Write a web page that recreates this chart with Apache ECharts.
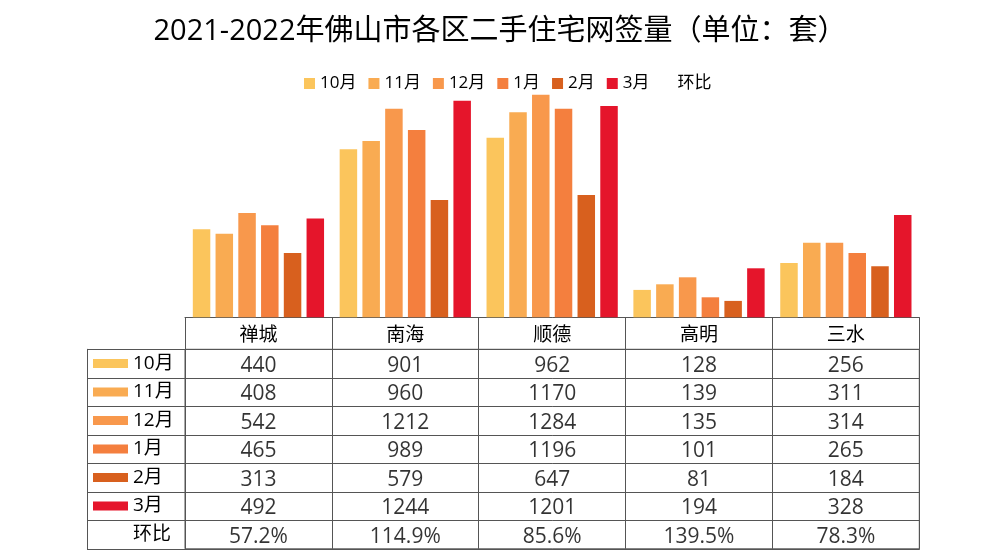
<!DOCTYPE html>
<html><head><meta charset="utf-8">
<script src="https://cdn.jsdelivr.net/npm/echarts@6/dist/echarts.min.js"></script>
<style>html,body{margin:0;padding:0;background:#fff}#c{width:1000px;height:559px}</style>
</head><body><div id="c"></div>
<script>
// categories
const districts = ['禅城', '南海', '顺德', '高明', '三水'];
const months = ['10月', '11月', '12月', '1月', '2月', '3月'];
const rateName = '环比';
const monthColors = ['#FBC55C', '#F9AB52', '#F8984C', '#F47F3E', '#D8601E', '#E5152B'];

// bar heights as drawn in the picture (estimated from the bars)
const barOct = [440, 840, 898, 137, 272];
const barNov = [418, 882, 1025, 165, 373];
const barDec = [522, 1043, 1113, 200, 373];
const barJan = [460, 937, 1043, 100, 322];
const barFeb = [322, 587, 612, 82, 255];
const barMar = [494, 1083, 1057, 245, 512];

// data table values
const tblOct = [440, 901, 962, 128, 256];
const tblNov = [408, 960, 1170, 139, 311];
const tblDec = [542, 1212, 1284, 135, 314];
const tblJan = [465, 989, 1196, 101, 265];
const tblFeb = [313, 579, 647, 81, 184];
const tblMar = [492, 1244, 1201, 194, 328];
const tblRate = ['57.2%', '114.9%', '85.6%', '139.5%', '78.3%'];

const barSets = [barOct, barNov, barDec, barJan, barFeb, barMar];
const tableRows = [tblOct, tblNov, tblDec, tblJan, tblFeb, tblMar, tblRate];
const rowNames = months.concat([rateName]);

const FONT = '"Open Sans","Noto Sans CJK SC",sans-serif';
const LINE = '#555';
const INK = '#000';
const W = 'normal';

const cellData = [];
tableRows.forEach((row, r) => row.forEach((v, i) => cellData.push({ value: [i, r], name: String(v) })));

const rich = { t: { fontSize: 19, color: INK, fontWeight: W, fontFamily: FONT, padding: [0, 0, 0, 5] }, sx: { width: 35, height: 9 } };
monthColors.forEach((c, i) => { rich['s' + i] = { width: 35, height: 9, backgroundColor: c }; });

const series = months.map((m, k) => ({
  name: m, type: 'bar', xAxisIndex: 0, yAxisIndex: 0,
  data: barSets[k], barWidth: 17.5, barGap: '30%',
  itemStyle: { color: monthColors[k] }, silent: true
}));
series.push({ name: rateName, type: 'line', data: [], xAxisIndex: 0, yAxisIndex: 0,
  itemStyle: { color: 'rgba(0,0,0,0)' }, lineStyle: { color: 'rgba(0,0,0,0)' } });
series.push({
  type: 'scatter', xAxisIndex: 1, yAxisIndex: 1, data: cellData, symbolSize: 1, silent: true,
  itemStyle: { color: 'rgba(0,0,0,0)' },
  label: { show: true, position: 'inside', offset: [0, 2], formatter: '{b}', fontSize: 21, color: INK, fontWeight: W, fontFamily: FONT }
});

const chart = echarts.init(document.getElementById('c'));
chart.setOption({
  animation: false,
  backgroundColor: '#fff',
  textStyle: { fontFamily: FONT },
  title: {
    text: '2021-2022年佛山市各区二手住宅网签量（单位：套）', left: 'center', top: 12,
    textStyle: { fontSize: 29, fontWeight: W, color: INK, fontFamily: FONT }
  },
  legend: {
    data: rowNames, left: 299, top: 70, icon: 'rect', itemWidth: 11, itemHeight: 11, itemGap: 12,
    textStyle: { fontSize: 17, color: INK, fontWeight: W, fontFamily: FONT }, selectedMode: false
  },
  grid: [
    { left: 185, right: 80.7, top: 67.3, height: 250 },
    { left: 185, right: 80.7, top: 349.3, height: 199.5, show: true, borderColor: LINE, borderWidth: 1 }
  ],
  xAxis: [
    { type: 'category', gridIndex: 0, data: districts, position: 'bottom',
      axisLine: { show: true, lineStyle: { color: LINE, width: 1 } },
      axisTick: { show: true, length: 32, lineStyle: { color: LINE, width: 1 } },
      axisLabel: { fontSize: 19, color: INK, fontWeight: W, margin: 9, fontFamily: FONT } },
    { type: 'category', gridIndex: 1, data: districts, position: 'bottom',
      axisLine: { show: true, lineStyle: { color: LINE, width: 1 } },
      axisTick: { show: false }, axisLabel: { show: false },
      splitLine: { show: true, lineStyle: { color: LINE, width: 1 } } }
  ],
  yAxis: [
    { type: 'value', gridIndex: 0, min: 0, max: 1250, show: false },
    { type: 'category', gridIndex: 1, data: rowNames, inverse: true, position: 'left',
      axisLine: { show: true, lineStyle: { color: LINE, width: 1 } },
      axisTick: { show: true, length: 98, lineStyle: { color: LINE, width: 1 } },
      splitLine: { show: true, lineStyle: { color: LINE, width: 1 } },
      axisLabel: { align: 'left', margin: 92, rich: rich,
        formatter: (val, idx) => (idx < 6 ? '{s' + idx + '|}' : '{sx|}') + '{t|' + val + '}' } },
    { type: 'category', gridIndex: 1, data: rowNames, position: 'left', offset: 98,
      axisLine: { show: true, lineStyle: { color: LINE, width: 1 } },
      axisTick: { show: false }, axisLabel: { show: false }, splitLine: { show: false } }
  ],
  series: series
});
</script></body></html>
